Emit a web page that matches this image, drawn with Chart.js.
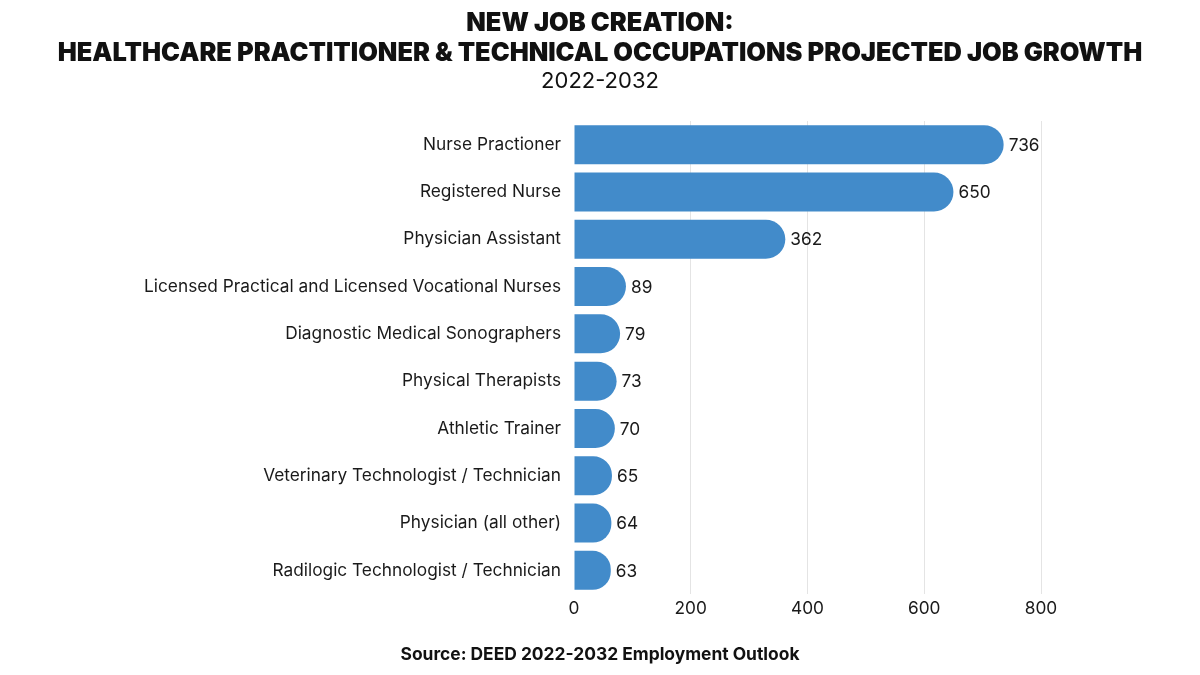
<!DOCTYPE html>
<html>
<head>
<meta charset="utf-8">
<script src="https://cdn.jsdelivr.net/npm/chart.js@4"></script>
<style>
  body { margin: 0; background: #fff; }
  #wrap { position: relative; width: 1200px; height: 675px; }
  canvas { position: absolute; left: 0; top: 0; }
  .title { position: absolute; left: 0; width: 1200px; text-align: center; color: #111; font-family: Inter, sans-serif; }
  #t1 { top: 7px; font-size: 25.4px; font-weight: 900; line-height: 30px; }
  #t2 { top: 66px; font-size: 22px; font-weight: 400; line-height: 28px; }
  #src { top: 642px; font-size: 17.4px; font-weight: 700; line-height: 24px; }
</style>
</head>
<body>
<div id="wrap">
  <canvas id="chart" width="1200" height="675"></canvas>
  <div class="title" id="t1">NEW JOB CREATION:<br>HEALTHCARE PRACTITIONER &amp; TECHNICAL OCCUPATIONS PROJECTED JOB GROWTH</div>
  <div class="title" id="t2">2022-2032</div>
  <div class="title" id="src">Source: DEED 2022-2032 Employment Outlook</div>
</div>
<script>
const occupations = [
    'Nurse Practioner',
    'Registered Nurse',
    'Physician Assistant',
    'Licensed Practical and Licensed Vocational Nurses',
    'Diagnostic Medical Sonographers',
    'Physical Therapists',
    'Athletic Trainer',
    'Veterinary Technologist / Technician',
    'Physician (all other)',
    'Radilogic Technologist / Technician'
];
const newJobs = [736, 650, 362, 89, 79, 73, 70, 65, 64, 63];
const xTicks = [0, 200, 400, 600, 800];

// value labels at the end of each bar
const valueLabels = {
    id: 'valueLabels',
    afterDatasetsDraw(chart) {
        const ctx = chart.ctx;
        const meta = chart.getDatasetMeta(0);
        ctx.save();
        ctx.font = '17.3px Inter, sans-serif';
        ctx.fillStyle = '#1a1a1a';
        ctx.textAlign = 'left';
        ctx.textBaseline = 'middle';
        meta.data.forEach((bar, i) => {
            ctx.fillText(newJobs[i], bar.x + 5, bar.y + 1);
        });
        ctx.restore();
    }
};

const ctx = document.getElementById('chart').getContext('2d');
new Chart(ctx, {
    type: 'bar',
    data: {
        labels: occupations,
        datasets: [{
            data: newJobs,
            backgroundColor: '#428bca',
            borderRadius: 20,
            borderSkipped: 'start',
            barPercentage: 0.824,
            categoryPercentage: 1
        }]
    },
    options: {
        indexAxis: 'y',
        responsive: false,
        animation: false,
        layout: { padding: { top: 121, right: 159, bottom: 41, left: 0 } },
        plugins: {
            legend: { display: false },
            tooltip: { enabled: false }
        },
        scales: {
            x: {
                min: 0,
                max: 800,
                afterBuildTicks(axis) {
                    axis.ticks = xTicks.map(v => ({ value: v }));
                },
                afterFit(axis) { axis.height = 40; },
                grid: {
                    color: c => c.tick && c.tick.value === 0 ? 'rgba(0,0,0,0)' : '#e4e4e4',
                    drawTicks: false
                },
                border: { display: false },
                ticks: {
                    padding: 4,
                    color: '#1a1a1a',
                    font: { family: 'Inter, sans-serif', size: 17.3 }
                }
            },
            y: {
                afterFit(axis) { axis.width = 574; },
                grid: { display: false },
                border: { display: false },
                ticks: {
                    padding: 5,
                    color: '#1a1a1a',
                    font: { family: 'Inter, sans-serif', size: 17.3 }
                }
            }
        }
    },
    plugins: [valueLabels]
});
</script>
</body>
</html>
